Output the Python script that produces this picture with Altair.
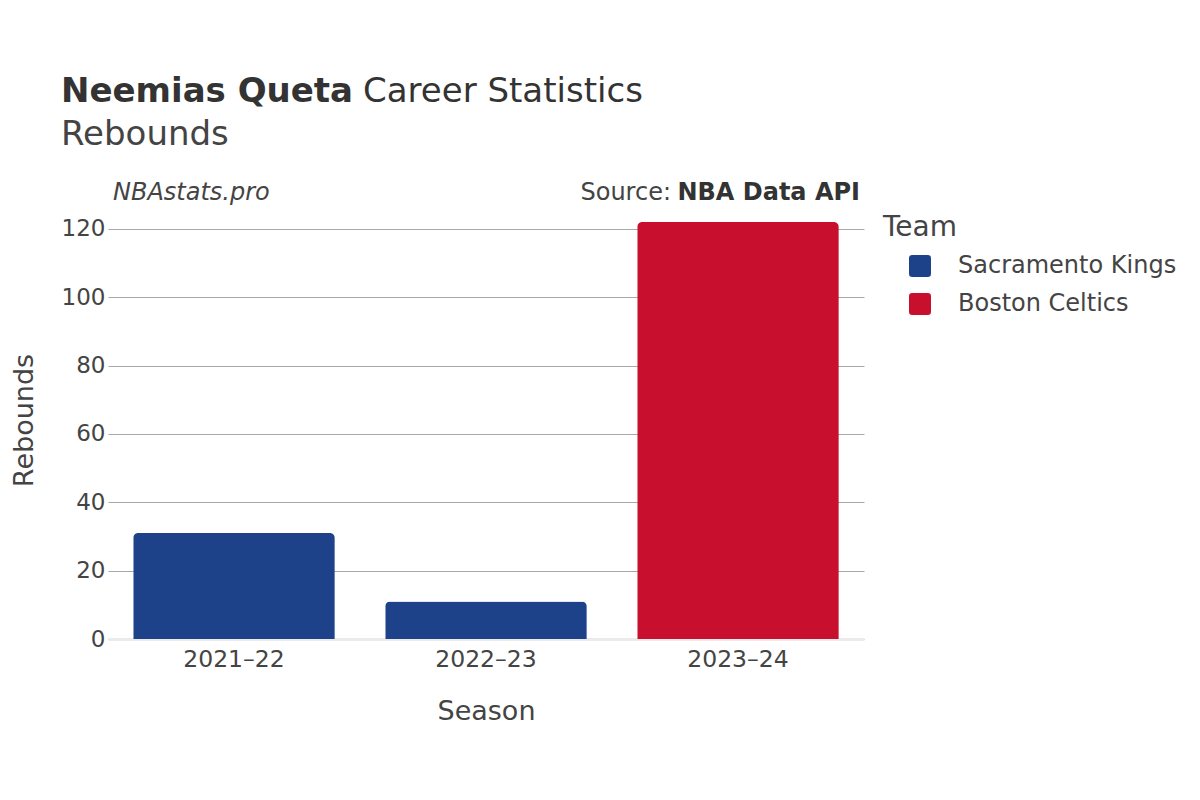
import altair as alt
import pandas as pd

seasons = ["2021–22", "2022–23", "2023–24"]
teams = ["Sacramento Kings", "Sacramento Kings", "Boston Celtics"]
rebounds = [31, 11, 122]
team_order = ["Sacramento Kings", "Boston Celtics"]
team_colors = ["#1D428A", "#C8102E"]

df = pd.DataFrame({"Season": seasons, "Team": teams, "Rebounds": rebounds})

FONT = "DejaVu Sans"
rounded = "M-0.7,-1 L0.7,-1 Q1,-1 1,-0.7 L1,0.7 Q1,1 0.7,1 L-0.7,1 Q-1,1 -1,0.7 L-1,-0.7 Q-1,-1 -0.7,-1 Z"

bars = alt.Chart(df).mark_bar(cornerRadiusTopLeft=5, cornerRadiusTopRight=5).encode(
    x=alt.X("Season:N", sort=seasons,
            scale=alt.Scale(paddingInner=0.2, paddingOuter=0.1),
            axis=alt.Axis(title="Season", labelAngle=0, ticks=False, labelPadding=8,
                          titlePadding=28, domainColor="#EBEBEB", domainWidth=3,
                          labelFontSize=23.5, titleFontSize=27, labelColor="#444",
                          titleColor="#444", titleFontWeight="normal", grid=False)),
    y=alt.Y("Rebounds:Q", scale=alt.Scale(domain=[0, 122], nice=False),
            axis=alt.Axis(title="Rebounds", values=[0, 20, 40, 60, 80, 100, 120],
                          ticks=False, domain=False, labelPadding=3,
                          titleX=-70, titleY=198, titleAngle=-90, titleAlign="center",
                          titleBaseline="bottom",
                          gridColor="#A8A8A8", gridWidth=1, labelFontSize=23,
                          titleFontSize=27, labelColor="#444", titleColor="#444",
                          titleFontWeight="normal")),
    color=alt.Color("Team:N", sort=team_order,
                    scale=alt.Scale(domain=team_order, range=team_colors),
                    legend=alt.Legend(title="Team", orient="none", legendX=775, legendY=-8,
                                      symbolType=rounded, symbolSize=484, symbolOffset=25,
                                      symbolStrokeWidth=0, labelOffset=26, rowPadding=14,
                                      titlePadding=12, titleFontSize=28, labelLimit=400,
                                      titleFontWeight="normal", titleColor="#444",
                                      labelFontSize=24, labelColor="#444")),
)

one = alt.Data(values=[{"a": 1}])

def txt(text, x, y, size, weight="normal", style="normal", align="left", color="#333"):
    return alt.Chart(one).mark_text(text=text, align=align, baseline="alphabetic",
                                    fontSize=size, fontWeight=weight, fontStyle=style,
                                    font=FONT, color=color).encode(
        x=alt.value(x), y=alt.value(y))

title_bold = txt("Neemias Queta", -47, -120, 34, weight="bold")
title_rest = txt("Career Statistics", 255, -120, 34)
subtitle = txt("Rebounds", -47, -77, 34, color="#444")
site = txt("NBAstats.pro", 5, -22, 24, style="italic", color="#444")
src_bold = txt("NBA Data API", 752, -22, 24, weight="bold", align="right")
src_norm = txt("Source:", 563, -22, 24, align="right", color="#444")

chart = alt.layer(bars, title_bold, title_rest, subtitle, site, src_bold, src_norm).properties(
    width=756, height=417,
    autosize=alt.AutoSizeParams(type="none"),
    padding={"left": 100, "top": 214, "right": 328, "bottom": 153},
).configure(font=FONT).configure_view(stroke=None)

chart.save("out.html", embed_options={"renderer": "svg", "actions": False})
